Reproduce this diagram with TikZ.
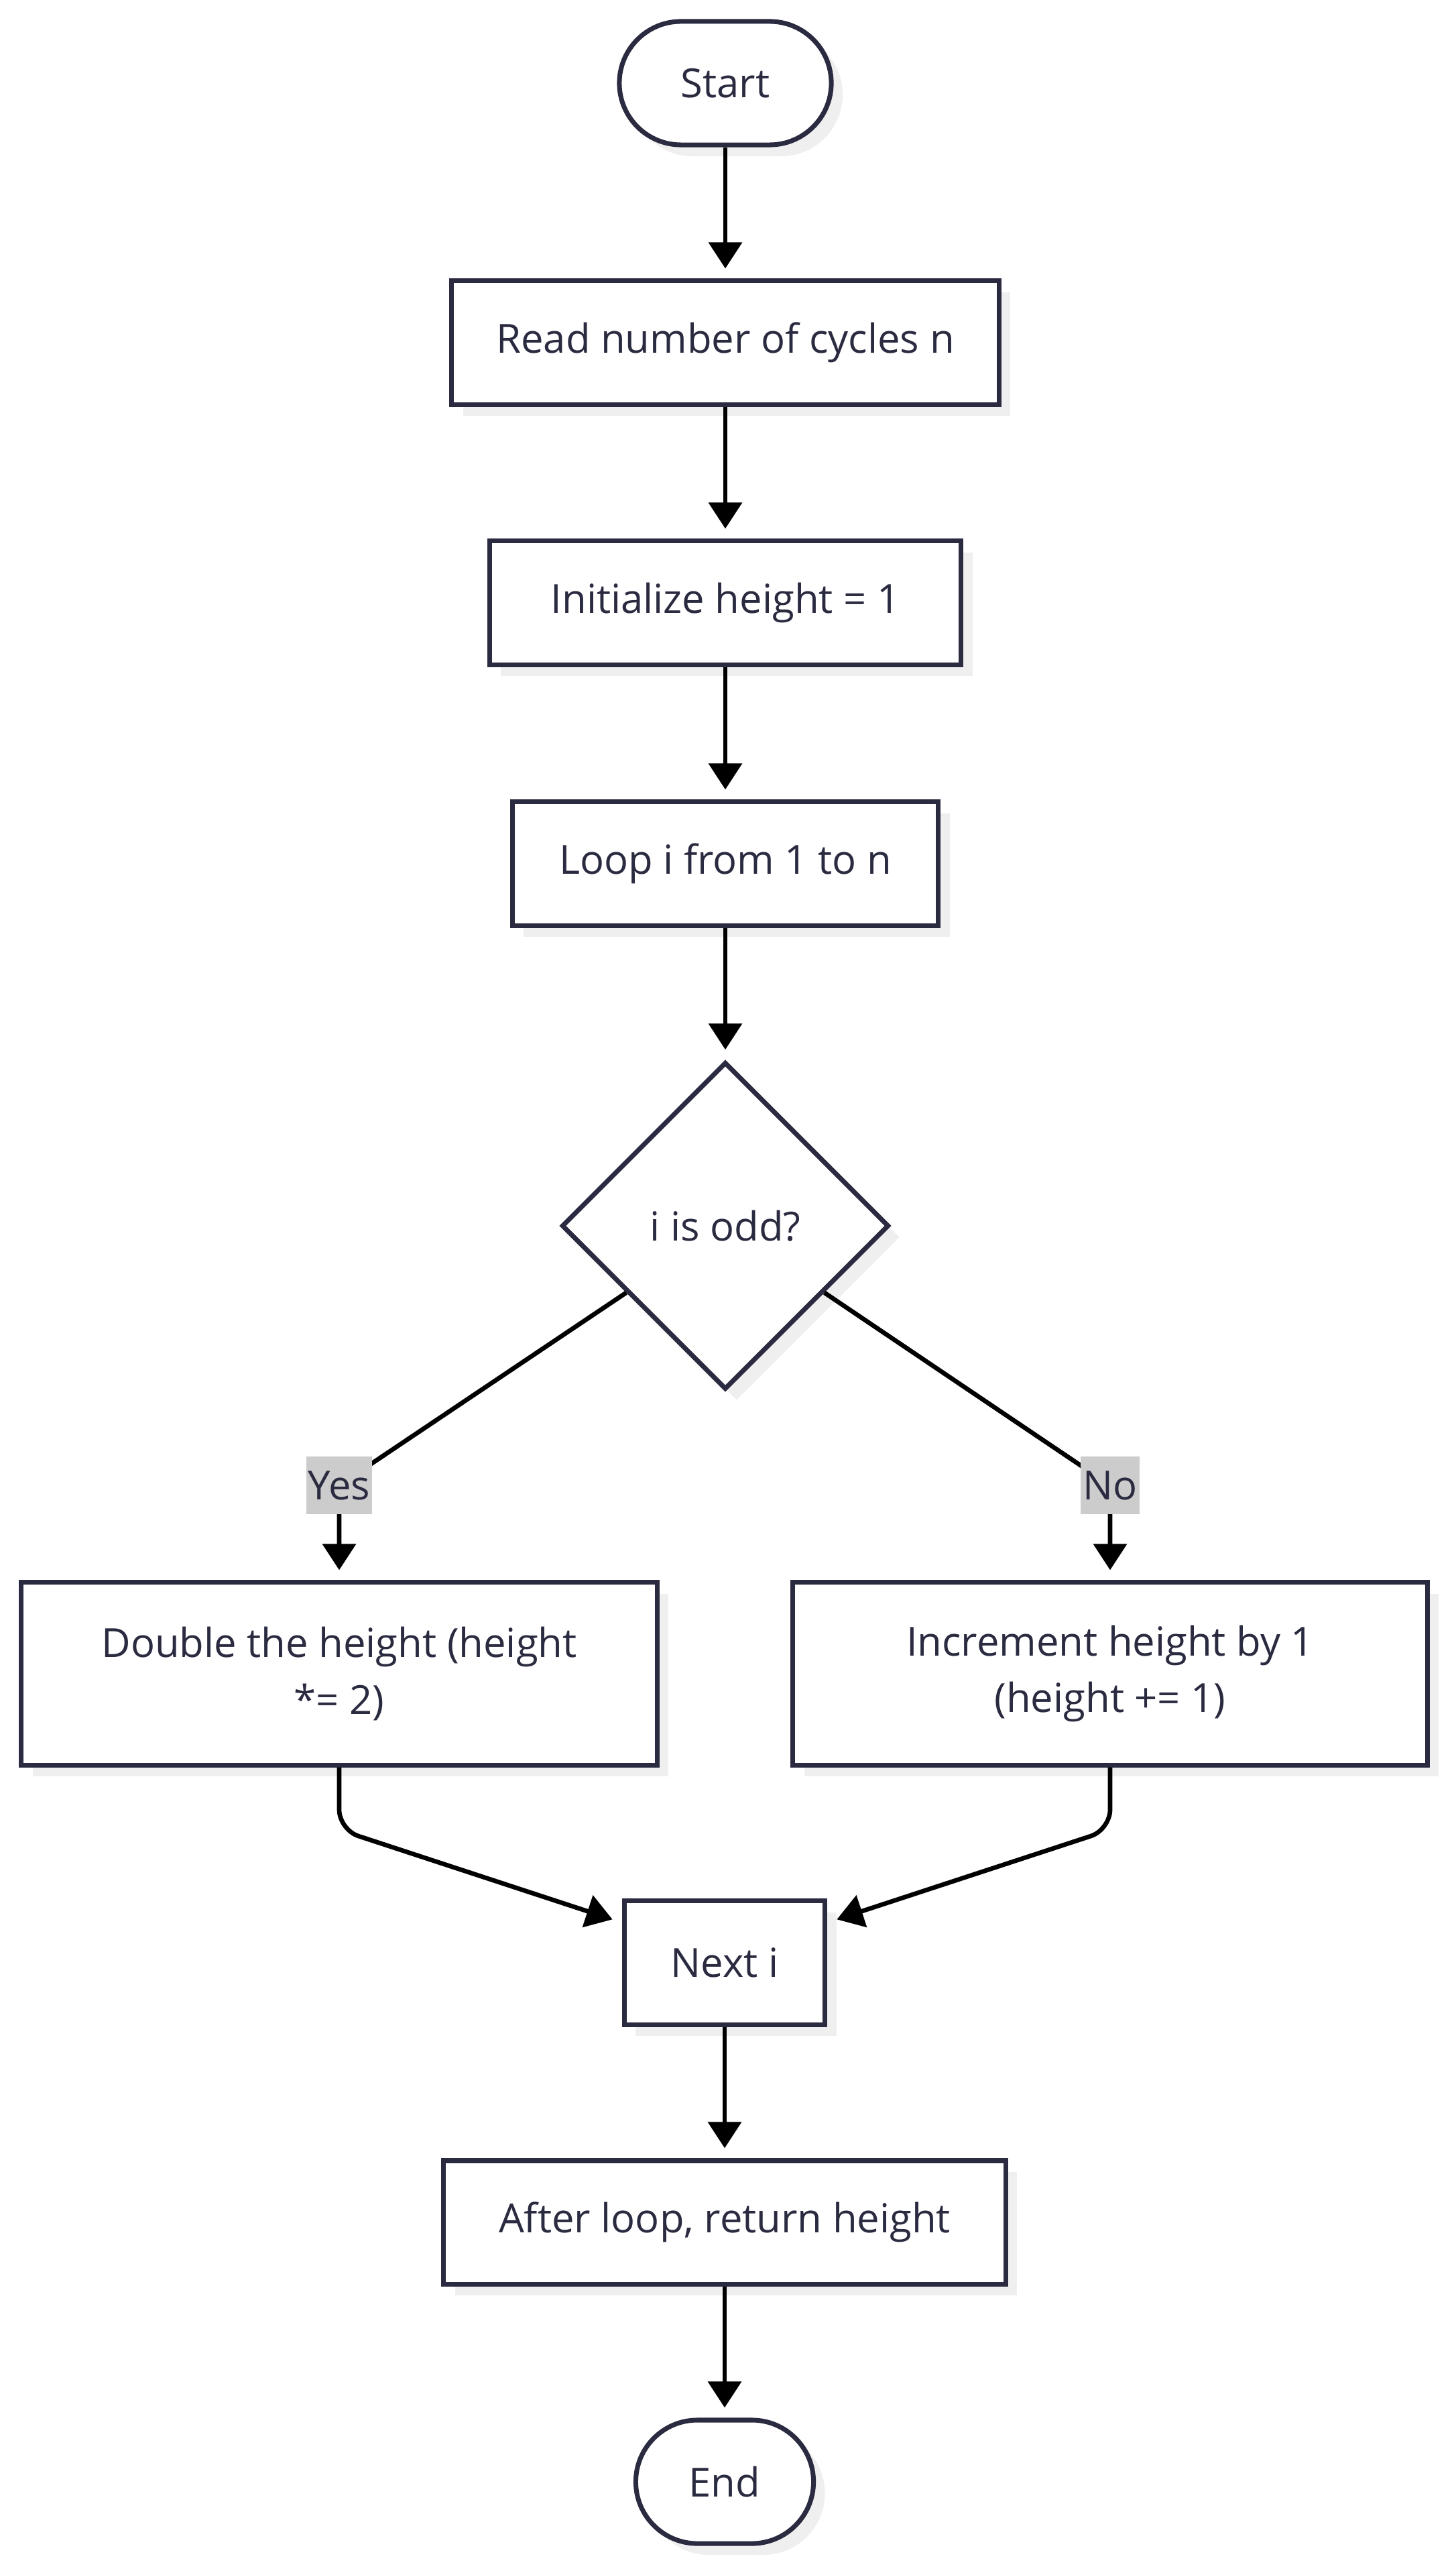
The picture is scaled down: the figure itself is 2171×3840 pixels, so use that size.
\documentclass[tikz,border=0pt]{standalone}
\usepackage{fontspec}
\setmainfont{Open Sans}
\usetikzlibrary{shapes.geometric,arrows.meta,shadows,calc}
\definecolor{ink}{HTML}{2A2A40}
\definecolor{shade}{HTML}{EFEFEF}
\definecolor{lblgrey}{HTML}{CCCCCC}

\begin{document}
\begin{tikzpicture}[x=0.01cm,y=-0.01cm,
  every node/.style={font=\fontsize{17}{24}\selectfont,text=ink},
  box/.style={rectangle,draw=ink,line width=2pt,fill=white,minimum height=1.84cm,
    general shadow={fill=shade,shadow xshift=0.17cm,shadow yshift=-0.17cm}},
  term/.style={box,rounded corners=0.92cm},
  decision/.style={diamond,draw=ink,line width=2pt,fill=white,aspect=1,
    minimum size=4.88cm,inner sep=0pt,
    general shadow={fill=shade,shadow xshift=0.17cm,shadow yshift=-0.17cm}},
  lbl/.style={fill=lblgrey,inner xsep=0.03cm,inner ysep=0pt,minimum height=0.85cm},
  flow/.style={draw=black,line width=1.9pt,
    -{Triangle[length=0.39cm,width=0.49cm]},shorten >=0.15cm}]

  \useasboundingbox (0,0) rectangle (2171,3840);

  \node[term,minimum width=3.16cm] (start) at (1082,124) {Start};
  \node[box,minimum width=8.16cm] (read) at (1082,511) {Read number of cycles n};
  \node[box,minimum width=7.03cm] (init) at (1082,899) {Initialize height = 1};
  \node[box,minimum width=6.35cm] (loop) at (1082,1288) {Loop i from 1 to n};
  \node[decision] (odd) at (1082,1828) {i is odd?};
  \node[box,minimum width=9.48cm,minimum height=2.72cm,align=center] (dbl) at (506,2496)
    {Double the height (height\\*= 2)};
  \node[box,minimum width=9.46cm,minimum height=2.72cm,align=center] (inc) at (1656,2496)
    {Increment height by 1\\(height += 1)};
  \node[box,minimum width=2.99cm] (next) at (1081,2927) {Next i};
  \node[box,minimum width=8.38cm] (after) at (1081,3314) {After loop, return height};
  \node[term,minimum width=2.65cm] (stop) at (1081,3701) {End};

  \coordinate (yespt) at (506,2215);
  \coordinate (nopt) at (1656,2215);

  \draw[flow] (start) -- (read);
  \draw[flow] (read) -- (init);
  \draw[flow] (init) -- (loop);
  \draw[flow] (loop) -- (odd);
  \draw[flow] (odd.214) -- (yespt) -- (dbl);
  \draw[flow] (odd.326) -- (nopt) -- (inc);
  \draw[flow,rounded corners=0.3cm] (dbl.south) -- ++(0,93) -- ($(next.west)+(0,-60)$);
  \draw[flow,rounded corners=0.3cm] (inc.south) -- ++(0,93) -- ($(next.east)+(0,-60)$);
  \draw[flow] (next) -- (after);
  \draw[flow] (after) -- (stop);

  \node[lbl] (yes) at (yespt) {Yes};
  \node[lbl] (no) at (nopt) {No};
\end{tikzpicture}
\end{document}
